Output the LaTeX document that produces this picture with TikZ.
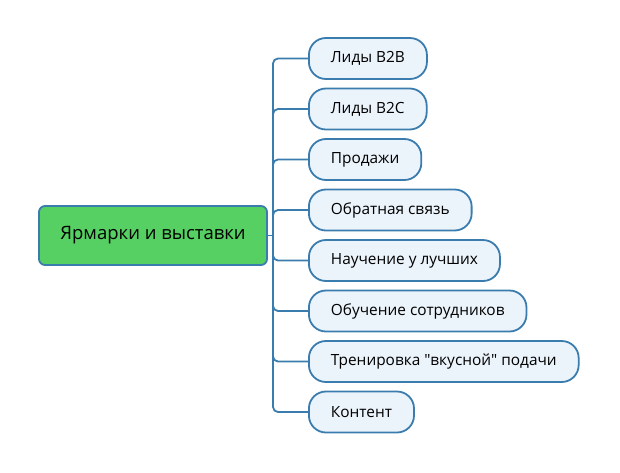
\documentclass[tikz,border=0pt]{standalone}
\usepackage{fontspec}
\setmainfont{Open Sans}
\definecolor{rootgreen}{HTML}{57D063}
\definecolor{edgeblue}{HTML}{3B7CAE}
\definecolor{leaffill}{HTML}{EBF3FB}

\begin{document}
\begin{tikzpicture}[x=1pt,y=-1pt,
        root/.style={draw=edgeblue,line width=1.8pt,fill=rootgreen,rounded corners=6pt,minimum width=228pt,minimum height=59pt,font=\fontsize{18.5}{22}\selectfont},
        leaf/.style={draw=edgeblue,line width=1.8pt,fill=leaffill,rounded corners=17pt,minimum height=41pt,inner xsep=22pt,anchor=west,font=\fontsize{15.4}{18}\selectfont},
        link/.style={edgeblue,line width=1.8pt,rounded corners=5pt}]
                \useasboundingbox (0,0) rectangle (620,472);
                \node[root] (root) at (153,235.5) {Ярмарки и выставки};
                \coordinate (hub) at (273,235.5);
                \foreach \txt [count=\i] in {Лиды B2B, Лиды B2C, Продажи, Обратная связь, Научение у лучших, Обучение сотрудников, {Тренировка \textquotedbl вкусной\textquotedbl{} подачи}, Контент}
                    \node[leaf] (c\i) at (308,{58.5+50.5*(\i-1)}) {\txt};
                \draw[link] (root.east) -- (hub);
                \draw[link] (c1.west) -| (hub) |- (c8.west);
                \foreach \i in {2,...,7}
                    \draw[link] (hub) |- (c\i.west);
            \end{tikzpicture}
\end{document}
